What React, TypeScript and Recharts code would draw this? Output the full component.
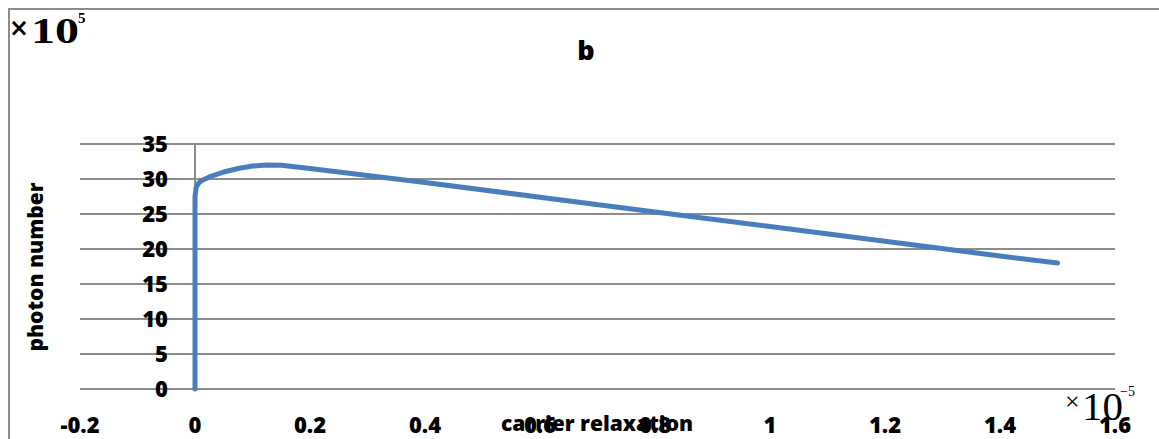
import { LineChart, Line, XAxis, YAxis, CartesianGrid, ReferenceLine } from "recharts";

// carrier relaxation (x 1e-5) vs photon number (x 1e5)
const relaxation = [0, 0, 0.002, 0.006, 0.012, 0.025, 0.05, 0.075, 0.1, 0.125, 0.15, 0.2, 0.3, 0.4, 0.6, 0.8, 1.0, 1.2, 1.4, 1.5];
const photons = [0, 27.5, 28.8, 29.4, 29.8, 30.3, 31.0, 31.5, 31.85, 32.0, 31.95, 31.5, 30.5, 29.5, 27.4, 25.3, 23.2, 21.1, 19.0, 18.0];

const xTicks = [-0.2, 0, 0.2, 0.4, 0.6, 0.8, 1, 1.2, 1.4, 1.6];
const yTicks = [0, 5, 10, 15, 20, 25, 30, 35];

const data = relaxation.map((x, i) => ({ x, y: photons[i] }));

const FONT = "'Open Sans', sans-serif";
const GRID = "#8c8c8c";

const renderYTick = (props: any) => {
  const { x, y, payload } = props;
  // labels sit beside the axis line drawn at x = 0
  return (
    <text x={x + 88} y={y} dy="0.36em" textAnchor="end" fontFamily={FONT} fontWeight={800} fontSize={22} fill="#000">
      {payload.value}
    </text>
  );
};

export default function App() {
  return (
    <div style={{ position: "relative", width: 1159, height: 439, overflow: "hidden", background: "#fff" }}>
      <style>{"body{margin:0}"}</style>
      <div style={{ position: "absolute", left: 8, top: 8, right: 0, bottom: 0, borderTop: `2px solid ${GRID}`, borderLeft: `2px solid ${GRID}` }} />
      <LineChart width={1159} height={439} data={data} margin={{ top: 144, right: 44, bottom: 10, left: 40 }}>
        <CartesianGrid vertical={false} stroke={GRID} strokeWidth={2} />
        <XAxis
          dataKey="x"
          type="number"
          domain={[-0.2, 1.6]}
          ticks={xTicks}
          axisLine={false}
          tickLine={false}
          tickSize={0}
          tickMargin={28}
          height={40}
          interval={0}
          tick={{ fontFamily: FONT, fontWeight: 800, fontSize: 22, fill: "#000" }}
        />
        <YAxis
          type="number"
          domain={[0, 35]}
          ticks={yTicks}
          axisLine={false}
          tickLine={false}
          tickSize={0}
          tickMargin={0}
          width={40}
          interval={0}
          tick={renderYTick}
        />
        <ReferenceLine x={0} stroke={GRID} strokeWidth={2} />
        <Line
          type="linear"
          dataKey="y"
          stroke="#4a7ebb"
          strokeWidth={5}
          strokeLinecap="round"
          strokeLinejoin="round"
          dot={false}
          isAnimationActive={false}
        />
      </LineChart>
      <svg width={1159} height={439} style={{ position: "absolute", left: 0, top: 0, pointerEvents: "none" }}>
        <text x={586} y={60} textAnchor="middle" fontFamily={FONT} fontWeight={800} fontSize={27}>b</text>
        <text x={35} y={267} transform="rotate(-90 35 267)" textAnchor="middle" dy="0.36em" fontFamily={FONT} fontWeight={800} fontSize={21}>
          photon number
        </text>
        <text x={597} y={431} textAnchor="middle" fontFamily={FONT} fontWeight={800} fontSize={21}>carrier relaxation</text>
        <text x={9} y={36} fontFamily="'DejaVu Sans', sans-serif" fontWeight={700} fontSize={24} textLength={20} lengthAdjust="spacingAndGlyphs">×</text>
        <text x={31} y={43} fontFamily="'Liberation Serif', serif" fontWeight={700} fontSize={35} textLength={48} lengthAdjust="spacingAndGlyphs">10</text>
        <text x={78} y={23} fontFamily="'Liberation Serif', serif" fontWeight={700} fontSize={15}>5</text>
        <text x={1065} y={410} fontFamily="'Liberation Serif', serif" fontSize={26}>×</text>
        <text x={1082} y={420} fontFamily="'Liberation Serif', serif" fontSize={41}>10</text>
        <text x={1120} y={396} fontFamily="'Liberation Serif', serif" fontSize={14}>−5</text>
      </svg>
    </div>
  );
}
